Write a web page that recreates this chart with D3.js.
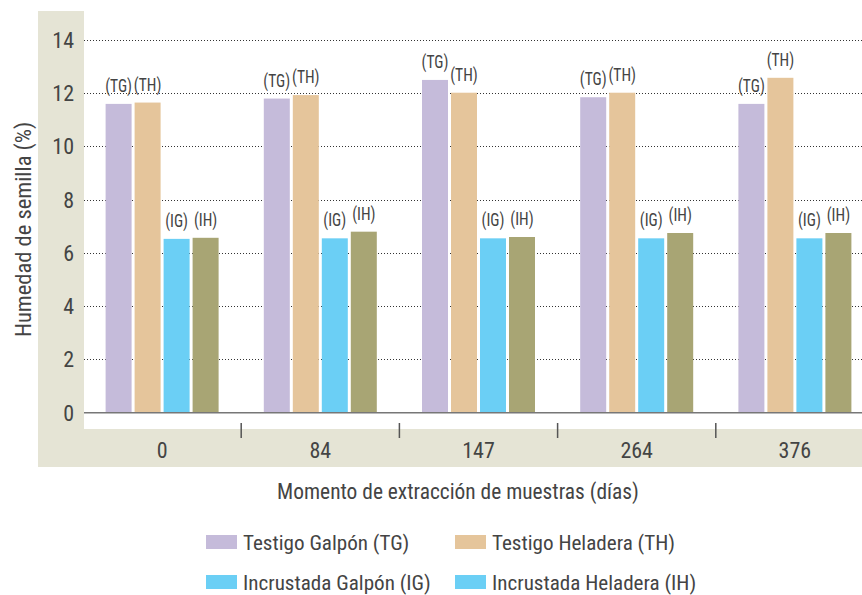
<!DOCTYPE html>
<html>
<head>
<meta charset="utf-8">
<script src="https://cdn.jsdelivr.net/npm/d3@7"></script>
<style>
  html, body { margin: 0; padding: 0; background: #fff; }
  svg { display: block; }
  text { font-family: "Liberation Sans Narrow", "Roboto Condensed", "Liberation Sans", sans-serif; fill: #444; }
</style>
</head>
<body>
<svg id="chart" width="862" height="595"></svg>
<script>
const categories = ["0", "84", "147", "264", "376"];
const seriesKeys = ["TG", "TH", "IG", "IH"];
const seriesNames = ["Testigo Galpón (TG)", "Testigo Heladera (TH)", "Incrustada Galpón (IG)", "Incrustada Heladera (IH)"];
const TG = [11.6, 11.8, 12.5, 11.85, 11.6];
const TH = [11.65, 11.93, 12.02, 12.02, 12.58];
const IG = [6.53, 6.55, 6.55, 6.55, 6.55];
const IH = [6.57, 6.8, 6.6, 6.75, 6.75];
const yTicks = [0, 2, 4, 6, 8, 10, 12, 14];
const barColors = ["#c5bbda", "#e5c59b", "#6bcff5", "#a8a574"];
const legendColors = ["#c5bbda", "#e5c59b", "#6bcff5", "#6bcff5"];

const values = [TG, TH, IG, IH];
const svg = d3.select("#chart");

// panels
svg.append("rect").attr("x", 38).attr("y", 11).attr("width", 824).attr("height", 456).attr("fill", "#e5e4d5");
svg.append("rect").attr("x", 84).attr("y", 11).attr("width", 778).attr("height", 418).attr("fill", "#ffffff");

const y = d3.scaleLinear().domain([0, 14]).range([412.7, 40]);
const x = d3.scaleBand().domain(categories).range([83, 874]).paddingInner(0).paddingOuter(0);
const xs = d3.scaleBand().domain(seriesKeys).range([-56.5, 56.5]).paddingInner(3 / 29).paddingOuter(0);

// gridlines
svg.append("g").selectAll("line").data(yTicks.filter(d => d > 0)).join("line")
  .attr("x1", 84).attr("x2", 862)
  .attr("y1", d => Math.round(y(d)) + 0.5).attr("y2", d => Math.round(y(d)) + 0.5)
  .attr("stroke", "#333").attr("stroke-width", 1).attr("stroke-dasharray", "1,2");

// y tick labels
svg.append("g").selectAll("text").data(yTicks).join("text")
  .attr("x", 74).attr("y", d => y(d) + 7.8)
  .attr("text-anchor", "end").attr("font-size", 22).text(d => d);

// bars
const groups = svg.append("g").selectAll("g").data(categories).join("g")
  .attr("transform", d => `translate(${x(d) + x.bandwidth() / 2},0)`);

groups.each(function(cat, ci) {
  const g = d3.select(this);
  seriesKeys.forEach((k, si) => {
    const v = values[si][ci];
    g.append("rect")
      .attr("x", xs(k)).attr("width", xs.bandwidth())
      .attr("y", y(v)).attr("height", y(0) - y(v))
      .attr("fill", barColors[si]);
    g.append("text")
      .attr("transform", `translate(${xs(k) + xs.bandwidth() / 2},${y(v) - 12}) scale(0.84,1)`)
      .attr("text-anchor", "middle").attr("font-size", 18.5)
      .text(`(${k})`);
  });
});

// baseline
svg.append("line").attr("x1", 84).attr("x2", 862).attr("y1", y(0)).attr("y2", y(0))
  .attr("stroke", "#777").attr("stroke-width", 1.5);

// category separators
svg.append("g").selectAll("line").data(categories.slice(1)).join("line")
  .attr("x1", d => x(d)).attr("x2", d => x(d))
  .attr("y1", 423).attr("y2", 438)
  .attr("stroke", "#555").attr("stroke-width", 1.5);

// x labels
svg.append("g").selectAll("text").data(categories).join("text")
  .attr("x", d => x(d) + x.bandwidth() / 2).attr("y", 458)
  .attr("text-anchor", "middle").attr("font-size", 22).text(d => d);

// axis titles
svg.append("text").attr("transform", "translate(31,229.5) rotate(-90)")
  .attr("text-anchor", "middle").attr("font-size", 22.5).text("Humedad de semilla (%)");
svg.append("text").attr("x", 458).attr("y", 499)
  .attr("text-anchor", "middle").attr("font-size", 21.4).text("Momento de extracción de muestras (días)");

// legend
const legendPos = [[206, 535], [455, 535], [206, 575], [455, 575]];
seriesNames.forEach((name, i) => {
  const [lx, ly] = legendPos[i];
  svg.append("rect").attr("x", lx).attr("y", ly).attr("width", 31).attr("height", 14).attr("fill", legendColors[i]);
  svg.append("text").attr("x", lx + 37).attr("y", ly + 14.5).attr("font-size", 21.1).text(name);
});
</script>
</body>
</html>
